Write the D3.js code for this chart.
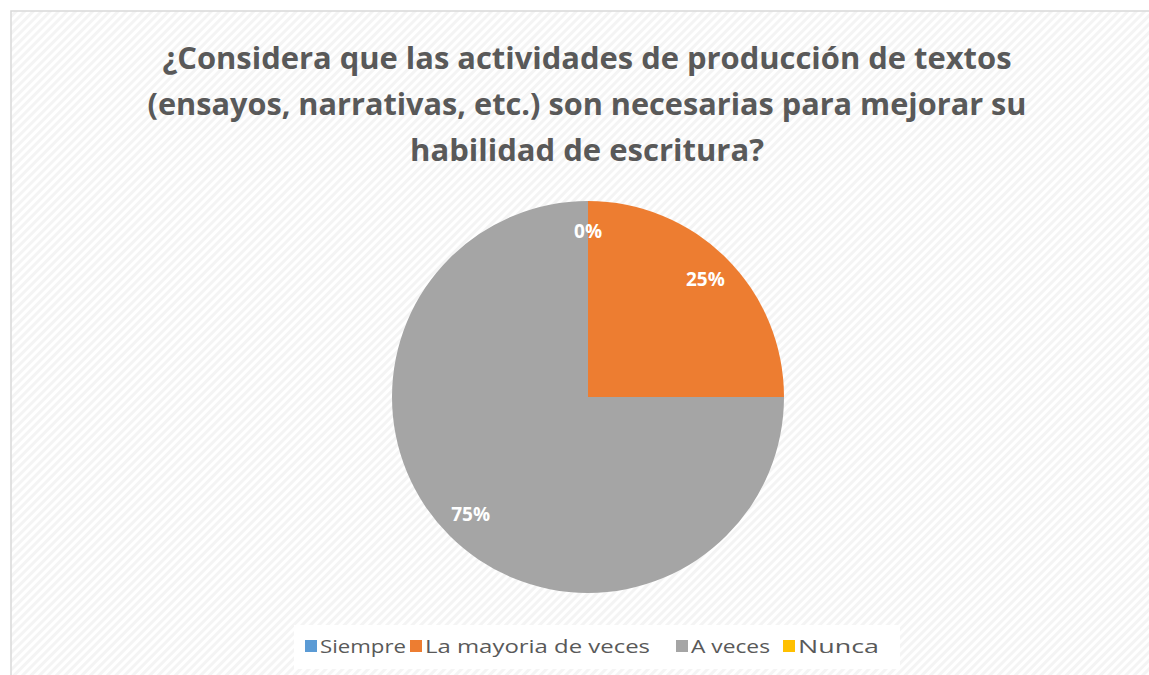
<!DOCTYPE html>
<html>
<head>
<meta charset="utf-8">
<script src="https://cdn.jsdelivr.net/npm/d3@7"></script>
<style>
  body { margin: 0; background: #fff; }
  svg { display: block; }
</style>
</head>
<body>
<svg id="chart" width="1149" height="675"></svg>
<script>
// data
var categories = ["Siempre", "La mayoria de veces", "A veces", "Nunca"];
var values = [0, 25, 75, 0];
var labels = ["0%", "25%", "75%", "0%"];
var colors = ["#5B9BD5", "#ED7D31", "#A5A5A5", "#FFC000"];
var titleLines = [
  "¿Considera que las actividades de producción de textos",
  "(ensayos, narrativas, etc.) son necesarias para mejorar su",
  "habilidad de escritura?"
];

var svg = d3.select("#chart"),
    width = +svg.attr("width"),
    height = +svg.attr("height");

var fontFam = "'Open Sans', 'Liberation Sans', sans-serif";

// striped background
var defs = svg.append("defs");
var pat = defs.append("pattern")
    .attr("id", "stripes")
    .attr("patternUnits", "userSpaceOnUse")
    .attr("width", 6)
    .attr("height", 6)
    .attr("patternTransform", "rotate(45)");
pat.append("rect").attr("width", 6).attr("height", 6).attr("fill", "#ffffff");
pat.append("rect").attr("width", 3).attr("height", 6).attr("fill", "#f4f4f4");

svg.append("rect")
    .attr("x", 11).attr("y", 11)
    .attr("width", width + 10).attr("height", height + 10)
    .attr("fill", "url(#stripes)")
    .attr("stroke", "#d9d9d9")
    .attr("stroke-width", 1.5);

// title (widths taken from the reference lines)
var titleWidths = [849, 879, 354];
svg.append("g").attr("class", "title")
  .selectAll("text")
    .data(titleLines)
  .enter().append("text")
    .attr("x", 587)
    .attr("y", function(d, i) { return 69 + i * 46; })
    .attr("text-anchor", "middle")
    .attr("fill", "#595959")
    .attr("textLength", function(d, i) { return titleWidths[i]; })
    .attr("lengthAdjust", "spacingAndGlyphs")
    .style("font-family", fontFam)
    .style("font-weight", "bold")
    .style("font-size", "30px")
    .text(function(d) { return d; });

// pie
var cx = 588, cy = 397, radius = 196;
var g = svg.append("g").attr("transform", "translate(" + cx + "," + cy + ")");

var pie = d3.pie().sort(null).value(function(d) { return d; });
var arc = d3.arc().innerRadius(0).outerRadius(radius);
var labelArc = d3.arc().innerRadius(166).outerRadius(166);

var arcs = pie(values);

g.selectAll("path.slice")
    .data(arcs)
  .enter().append("path")
    .attr("class", "slice")
    .attr("d", arc)
    .attr("fill", function(d, i) { return colors[i]; });

// only the first zero-slice label is shown, like the original
g.selectAll("text.lbl")
    .data(arcs.filter(function(d, i) { return i < 3; }))
  .enter().append("text")
    .attr("class", "lbl")
    .attr("transform", function(d) {
      var c = labelArc.centroid(d);
      return "translate(" + c[0] + "," + c[1] + ")";
    })
    .attr("text-anchor", "middle")
    .attr("dy", "0.35em")
    .attr("fill", "#ffffff")
    .style("font-family", fontFam)
    .style("font-weight", "bold")
    .style("font-size", "19px")
    .text(function(d, i) { return labels[i]; });

// legend
var legendX = [305, 410, 676, 783];
var legendW = [86, 225, 79, 81];
var leg = svg.append("g").attr("class", "legend");
leg.append("rect")
    .attr("x", 294).attr("y", 625)
    .attr("width", 606).attr("height", 44)
    .attr("fill", "#ffffff");

var items = leg.selectAll("g.item")
    .data(categories)
  .enter().append("g")
    .attr("class", "item")
    .attr("transform", function(d, i) { return "translate(" + legendX[i] + ",640)"; });
items.append("rect")
    .attr("width", 12).attr("height", 12)
    .attr("fill", function(d, i) { return colors[i]; });
items.append("text")
    .attr("x", 15)
    .attr("y", 13)
    .attr("fill", "#595959")
    .attr("textLength", function(d, i) { return legendW[i]; })
    .attr("lengthAdjust", "spacingAndGlyphs")
    .style("font-family", fontFam)
    .style("font-size", "19px")
    .text(function(d) { return d; });
</script>
</body>
</html>
